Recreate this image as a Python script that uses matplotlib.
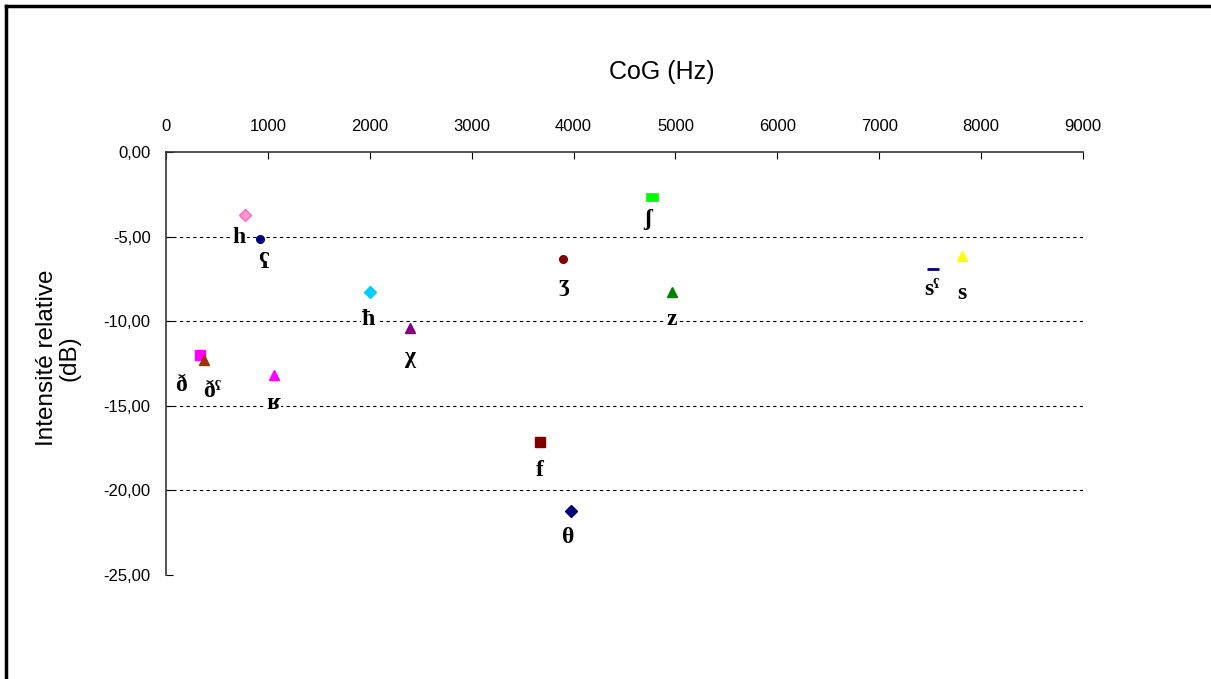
import matplotlib
matplotlib.use('Agg')
import matplotlib.pyplot as plt
from matplotlib.ticker import FuncFormatter
from matplotlib.lines import Line2D

plt.rcParams['font.family'] = ['Liberation Sans', 'DejaVu Sans']

# data
labels = ['h', 'ʕ', 'ħ', 'χ', 'ð', 'ðˤ', 'ʁ', 'ʒ', 'f', 'θ', 'ʃ', 'z', 'sˤ', 's']
cog = [775, 922, 2002, 2394, 334, 373, 1060, 3896, 3670, 3974, 4769, 4966, 7527, 7811]
intensity = [-3.72, -5.14, -8.27, -10.40, -12.00, -12.29, -13.18, -6.32, -17.14, -21.22, -2.66, -8.27, -6.91, -6.15]

# marker styles per point
rect = [(-1.5, -1), (1.5, -1), (1.5, 1), (-1.5, 1), (-1.5, -1)]
markers = ['D', 'o', 'D', '^', 's', '^', '^', 'o', 's', 'D', rect, '^', '_', '^']
facecolors = ['#FF99CC', '#000080', '#00CCFF', '#800080', '#FF00FF', '#993300', '#FF00FF',
              '#800000', '#800000', '#000080', '#00FF00', '#008000', '#000080', '#FFFF00']
edgecolors = ['#FF66CC', '#000080', '#00CCFF', '#800080', '#FF00FF', '#993300', '#FF00FF',
              '#800000', '#800000', '#000080', '#00FF00', '#008000', '#000080', '#FFFF00']
sizes = {'D': 6.5, 'o': 5.5, 's': 6.5, '^': 7.5, '_': 9}
# label offsets in pixels (x right, y down)
label_dx = [-6, 3, -1, 0, -19, 8, -1, 1, 0, -3, -4, 0, -1, 0]
label_dy = [23, 24, 28, 30, 30, 32, 28, 27, 28, 26, 22, 28, 21, 37]

xticks = list(range(0, 9001, 1000))
yticks = [0, -5, -10, -15, -20, -25]

fig = plt.figure(figsize=(12.11, 6.79), dpi=100)
ax = fig.add_axes([166/1211, 1 - 575/679, (1083 - 166)/1211, (575 - 152)/679])

for x, y, m, fc, ec in zip(cog, intensity, markers, facecolors, edgecolors):
    if isinstance(m, list):
        ax.plot(x, y, marker=m, mfc=fc, mec=ec, ms=9, mew=0.5, zorder=4)
    elif m == '_':
        ax.plot(x, y, marker=m, color=fc, ms=sizes[m], mew=2, zorder=4)
    else:
        ax.plot(x, y, marker=m, mfc=fc, mec=ec, ms=sizes[m], zorder=4)

for x, y, lab, dx, dy in zip(cog, intensity, labels, label_dx, label_dy):
    ax.annotate(lab, (x, y), xytext=(dx, -dy), textcoords='offset pixels',
                ha='center', va='center', fontsize=17, fontweight='bold',
                family=['Liberation Serif', 'DejaVu Serif'], zorder=3,
                bbox=dict(facecolor='white', edgecolor='none', pad=1))

ax.set_xlim(0, 9000)
ax.set_ylim(-25, 0)
ax.set_xticks(xticks)
ax.set_yticks(yticks)
ax.yaxis.set_major_formatter(FuncFormatter(lambda v, p: ('%.2f' % v).replace('.', ',')))
ax.xaxis.tick_top()
ax.tick_params(axis='x', direction='in', length=5, pad=13, labelsize=12)
ax.tick_params(axis='y', direction='in', length=5, pad=11, labelsize=12)

ax.spines['right'].set_visible(False)
ax.spines['bottom'].set_visible(False)
for s in ['top', 'left']:
    ax.spines[s].set_color('#333333')
    ax.spines[s].set_linewidth(1.2)

ax.grid(axis='y', color='black', linestyle=(0, (3, 3)), linewidth=0.8)
gl = ax.get_ygridlines()
gl[0].set_visible(False)
gl[-1].set_visible(False)

fig.text(662/1211, 1 - 72/679, 'CoG (Hz)', ha='center', va='center', fontsize=18)
fig.text(58/1211, 1 - 358/679, 'Intensité relative\n(dB)', ha='center', va='center',
         rotation=90, fontsize=17.5, multialignment='center', linespacing=1.0)

# outer frame (left and top edges visible)
fig.add_artist(Line2D([6/1211, 6/1211], [0, 1 - 6/679], transform=fig.transFigure,
                      color='black', linewidth=2.5))
fig.add_artist(Line2D([6/1211, 1], [1 - 6/679, 1 - 6/679], transform=fig.transFigure,
                      color='black', linewidth=2.5))

plt.savefig('out.png', dpi=100)
